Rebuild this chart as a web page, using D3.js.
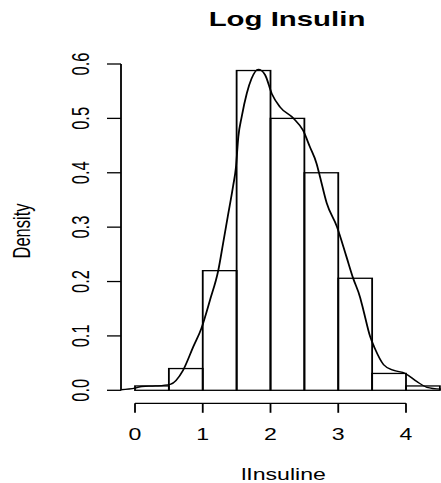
<!DOCTYPE html>
<html><head><meta charset="utf-8">
<script src="https://cdn.jsdelivr.net/npm/d3@7"></script>
<style>body{margin:0;background:#fff}svg{display:block}text{font-family:"Liberation Sans",Arial,sans-serif;fill:#000}</style>
</head><body>
<script>
const binEdges = [0, 0.5, 1, 1.5, 2, 2.5, 3, 3.5, 4, 4.5];
const binDensity = [0.008, 0.04, 0.22, 0.588, 0.50, 0.40, 0.206, 0.031, 0.008];
const densX = [-0.21, 0, 0.1, 0.3, 0.52, 0.71, 0.86, 0.98, 1.107, 1.23, 1.30, 1.37, 1.45, 1.49, 1.525, 1.575, 1.65, 1.72, 1.82, 1.92, 2.02, 2.14, 2.34, 2.48, 2.58, 2.68, 2.73, 2.83, 2.98, 3.12, 3.22, 3.32, 3.37, 3.47, 3.54, 3.67, 3.81, 3.99, 4.16, 4.31, 4.52];
const densY = [0.001, 0.004, 0.007, 0.008, 0.011, 0.037, 0.08, 0.114, 0.166, 0.221, 0.27, 0.32, 0.377, 0.41, 0.466, 0.503, 0.546, 0.573, 0.590, 0.580, 0.545, 0.521, 0.500, 0.478, 0.448, 0.417, 0.393, 0.344, 0.301, 0.246, 0.206, 0.172, 0.148, 0.099, 0.077, 0.047, 0.037, 0.031, 0.016, 0.0055, 0.002];
const xTicks = [0, 1, 2, 3, 4];
const yTicks = [0, 0.1, 0.2, 0.3, 0.4, 0.5, 0.6];
const title = "Log Insulin";
const xLabel = "lInsuline";
const yLabel = "Density";

const W = 441, H = 483, SX = 1.4;
const svg = d3.select("body").append("svg").attr("width", W).attr("height", H);
const g = svg.append("g").attr("transform", `scale(${SX},1)`);

const x = d3.scaleLinear().domain([0, 4]).range([135 / SX, 406 / SX]);
const y = d3.scaleLinear().domain([0, 0.6]).range([390.3, 64]);
const sw = 1.3;

// histogram
const bins = binDensity.map((d, i) => ({x0: binEdges[i], x1: binEdges[i + 1], d}));
g.append("g").selectAll("rect").data(bins).join("rect")
  .attr("x", d => x(d.x0)).attr("width", d => x(d.x1) - x(d.x0))
  .attr("y", d => y(d.d)).attr("height", d => y(0) - y(d.d))
  .attr("fill", "none").attr("stroke", "#000").attr("stroke-width", sw);

// density
const pts = densX.map((v, i) => [v, densY[i]]);
g.append("path").datum(pts)
  .attr("d", d3.line().x(d => x(d[0])).y(d => y(d[1])).curve(d3.curveMonotoneX))
  .attr("fill", "none").attr("stroke", "#000").attr("stroke-width", sw);

// y axis
const yAx = g.append("g").attr("transform", `translate(${121 / SX},0)`);
yAx.append("line").attr("x1", 0).attr("x2", 0).attr("y1", y(0)).attr("y2", y(0.6))
  .attr("stroke", "#000").attr("stroke-width", sw);
yAx.selectAll(".tk").data(yTicks).join("line")
  .attr("x1", -14 / SX).attr("x2", 0).attr("y1", d => y(d)).attr("y2", d => y(d))
  .attr("stroke", "#000").attr("stroke-width", sw);
yAx.selectAll("text").data(yTicks).join("text")
  .attr("transform", d => `translate(${(89 - 121) / SX},${y(d)}) rotate(-90)`)
  .attr("text-anchor", "middle").attr("font-size", 16.5)
  .text(d => d3.format(".1f")(d));

// x axis
const xAx = g.append("g").attr("transform", `translate(0,403.3)`);
xAx.append("line").attr("x1", x(0)).attr("x2", x(4)).attr("y1", 0).attr("y2", 0)
  .attr("stroke", "#000").attr("stroke-width", sw);
xAx.selectAll(".tk").data(xTicks).join("line")
  .attr("x1", d => x(d)).attr("x2", d => x(d)).attr("y1", 0).attr("y2", 9.5)
  .attr("stroke", "#000").attr("stroke-width", sw);
xAx.selectAll("text").data(xTicks).join("text")
  .attr("x", d => x(d)).attr("y", 36.7)
  .attr("text-anchor", "middle").attr("font-size", 16.5)
  .text(d => d);

// labels
g.append("text").attr("x", 287 / SX).attr("y", 26).attr("text-anchor", "middle")
  .attr("font-size", 21).attr("font-weight", "bold").text(title);
g.append("text").attr("x", 283.5 / SX).attr("y", 480).attr("text-anchor", "middle")
  .attr("font-size", 16.5).text(xLabel);
g.append("text").attr("transform", `translate(${30 / SX},231) rotate(-90)`)
  .attr("text-anchor", "middle").attr("font-size", 16.5).text(yLabel);
</script>
</body></html>
